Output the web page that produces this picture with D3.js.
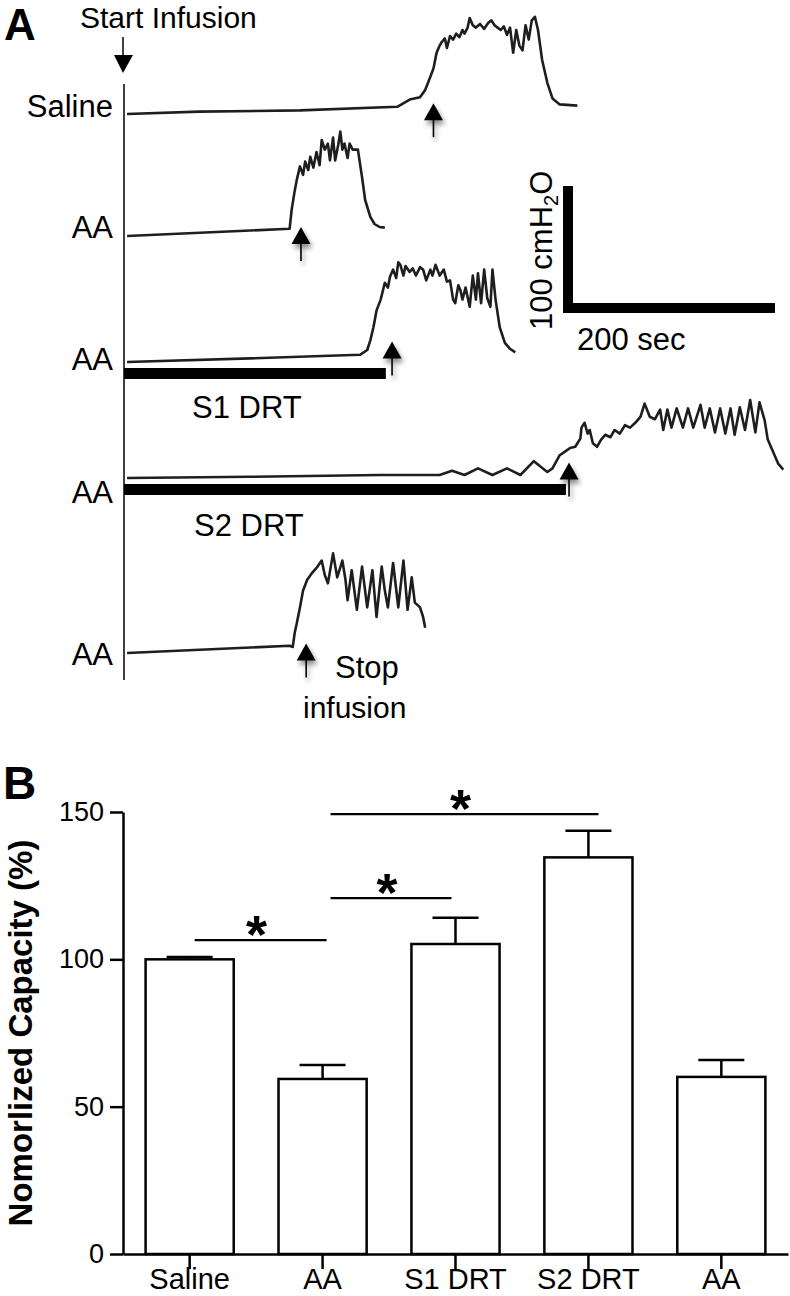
<!DOCTYPE html>
<html lang="en">
<head>
<meta charset="utf-8">
<title>Bladder capacity</title>
<script src="https://cdn.jsdelivr.net/npm/d3@7"></script>
<style>
  body { margin: 0; background: #fff; }
  text { font-family: "Liberation Sans", Arial, sans-serif; fill: #000; }
</style>
</head>
<body>
<script>

// ---- panel A: cystometry traces, [time (s), pressure (cmH2O) above row baseline]
var salineTrace = [[3,0],[73,2],[170,3],[264,6],[276,12],[286,14],[291,20],[296,31],[299,38],[302,51],[305,57],
  [307,60],[310,63],[312,55],[315,65],[318,62],[321,67],[324,64],[327,70],[329,67],[332,72],[334,80],[337,74],
  [340,72],[344,75],[348,71],[352,76],[355,78],[358,74],[361,72],[364,70],[367,73],[370,66],[373,72],[376,51],
  [379,70],[382,57],[385,53],[388,74],[391,62],[394,78],[397,81],[400,70],[404,45],[409,26],[414,13],[421,8],[438,7]];

var aa1Trace = [[3,0],[160,6],[162,22],[165,38],[167,47],[170,58],[173,51],[175,62],[178,55],[180,66],[183,57],
  [186,70],[189,59],[191,80],[194,72],[197,77],[199,63],[202,82],[204,63],[207,76],[209,87],[211,72],[213,77],
  [216,65],[218,77],[221,72],[223,72],[226,72],[230,49],[233,30],[238,16],[242,10],[247,7.5],[252,7]];

var aa2Trace = [[3,0],[122,3],[228,6],[235,10],[238,18],[241,29],[244,43],[248,52],[252,66],[255,62],[257,71],
  [260,77],[263,70],[265,83],[267,81],[270,72],[272,80],[276,75],[279,78],[282,72],[286,79],[289,77],[292,68],
  [296,77],[298,72],[301,81],[305,72],[309,77],[312,67],[315,68],[318,52],[320,49],[323,64],[325,60],[327,52],
  [330,62],[334,46],[337,72],[340,52],[342,74],[345,49],[348,77],[351,53],[354,46],[356,77],[359,52],[363,29],
  [368,16],[373,11],[378,8]];

var aa3Trace = [[3,0],[122,1],[247,2.5],[305,2.5],[317,6],[329,2.5],[342,8],[356,2.5],[370,8],[383,2.5],[396,14],
  [409,5],[414,8],[421,19],[426,22],[431,25],[436,26],[441,33],[442,42],[445,46],[448,37],[450,40],[453,29],
  [457,26],[461,32],[465,36],[470,34],[474,40],[479,37],[484,44],[489,42],[494,46],[499,51],[503,62],[508,51],
  [513,49],[518,57],[521,40],[525,57],[529,42],[534,58],[540,42],[545,58],[550,42],[557,61],[561,42],[566,58],
  [571,38],[576,58],[581,37],[586,58],[590,36],[595,59],[600,40],[605,65],[610,38],[614,63],[619,48],[622,32],
  [627,22],[632,12],[637,7]];

var aa4Trace = [[3,0],[160,6],[163,5],[165,17],[167,25],[170,38],[173,52],[177,61],[182,67],[187,72],[191,77],
  [194,65],[197,58],[202,83],[206,63],[211,77],[214,61],[216,44],[220,69],[225,36],[230,72],[235,38],[240,69],
  [244,30],[249,72],[252,52],[255,38],[260,75],[265,38],[270,77],[274,36],[278,63],[281,42],[286,38],[289,30],
  [291,21]];

var rowLabels = ["Saline", "AA", "AA", "AA", "AA"];
var arrowTimes = [299, 171, 259, 430, 176];      // stop infusion (s)
var arrowLevels = [9, 7.5, 17, 13, 8];           // arrow tip, cmH2O
var drtRows = [2, 3];
var drtEnds = [253, 427];                        // s
var drtLabels = ["S1 DRT", "S2 DRT"];

// ---- panel B: normalized capacity
var groups = ["Saline", "AA", "S1 DRT", "S2 DRT", "AA"];
var means = [100, 59.4, 105.2, 134.6, 60.1];
var sems = [0.8, 4.7, 8.9, 9.0, 5.7];
var yTicks = [0, 50, 100, 150];
var sigPairs = [[0, 1], [1, 2], [1, 3]];
var sigLevels = [106.5, 120.8, 149.3];

var traces = [salineTrace, aa1Trace, aa2Trace, aa3Trace, aa4Trace];

var svg = d3.select("body").append("svg")
  .attr("width", 790)
  .attr("height", 1296);

var defs = svg.append("defs");
var shadow = defs.append("filter").attr("id", "shadow")
  .attr("x", "-50%").attr("y", "-50%").attr("width", "200%").attr("height", "200%");
shadow.append("feDropShadow")
  .attr("dx", 2).attr("dy", 4).attr("stdDeviation", 2.5)
  .attr("flood-color", "#000").attr("flood-opacity", 0.45);

// ================= panel A =================
var rowBase = [114, 236, 362, 478, 653];
var labelY = [117, 238, 370, 503, 665];
var x0 = 124;

var tScale = d3.scaleLinear().domain([0, 200]).range([x0, x0 + 207]);
var pScales = rowBase.map(function(b) {
  return d3.scaleLinear().domain([0, 100]).range([b, b - 120]);
});

svg.append("text").attr("x", 4).attr("y", 40)
  .style("font-weight", "bold").style("font-size", "44px").text("A");

svg.append("text").attr("x", 80).attr("y", 27.5)
  .style("font-size", "30px").text("Start Infusion");

// start arrow
svg.append("line").attr("x1", x0 - 1).attr("x2", x0 - 1).attr("y1", 37).attr("y2", 60)
  .attr("stroke", "#000").attr("stroke-width", 1.5);
svg.append("path").attr("d", d3.line()([[x0 - 10, 55], [x0 + 9, 55], [x0 - 1, 73]]))
  .attr("fill", "#000");

// vertical start line
svg.append("line").attr("x1", x0).attr("x2", x0).attr("y1", 84).attr("y2", 680)
  .attr("stroke", "#000").attr("stroke-width", 1.5);

// DRT bars
drtRows.forEach(function(r, i) {
  var b = rowBase[r];
  svg.append("rect")
    .attr("x", tScale(0)).attr("width", tScale(drtEnds[i]) - tScale(0))
    .attr("y", b + 6).attr("height", 11)
    .attr("fill", "#000");
});
svg.append("text").attr("x", 192).attr("y", 418).style("font-size", "31px").text(drtLabels[0]);
svg.append("text").attr("x", 194).attr("y", 536).style("font-size", "31px").text(drtLabels[1]);

// traces
traces.forEach(function(tr, i) {
  var line = d3.line()
    .x(function(d) { return tScale(d[0]); })
    .y(function(d) { return pScales[i](d[1]); });
  svg.append("path")
    .attr("d", line(tr))
    .attr("fill", "none")
    .attr("stroke", "#1e1e1e")
    .attr("stroke-width", 2.6)
    .attr("stroke-linejoin", "round");
});

// row labels
svg.selectAll("text.row")
  .data(rowLabels)
  .enter()
  .append("text")
  .attr("class", "row")
  .attr("x", 113)
  .attr("y", function(d, i) { return labelY[i]; })
  .attr("text-anchor", "end")
  .style("font-size", "31px")
  .text(function(d) { return d; });

// stop infusion arrows
arrowTimes.forEach(function(t, i) {
  var ax = tScale(t);
  var ay = pScales[i](arrowLevels[i]);
  var g = svg.append("g").attr("filter", "url(#shadow)");
  g.append("line").attr("x1", ax).attr("x2", ax).attr("y1", ay + 12).attr("y2", ay + 34)
    .attr("stroke", "#000").attr("stroke-width", 1.6);
  g.append("path").attr("d", d3.line()([[ax, ay], [ax + 9.5, ay + 17], [ax - 9.5, ay + 17]]))
    .attr("fill", "#000");
});

svg.append("text").attr("x", 335).attr("y", 678).style("font-size", "31px").text("Stop");
svg.append("text").attr("x", 303).attr("y", 718).style("font-size", "30px").text("infusion");

// scale bars
var sbX = 568, sbY = 308;
var sbP = d3.scaleLinear().domain([0, 100]).range([sbY, sbY - 122]);
svg.append("rect").attr("x", sbX - 5).attr("width", 10)
  .attr("y", sbP(100)).attr("height", sbP(0) - sbP(100) + 5).attr("fill", "#000");
svg.append("rect").attr("x", sbX - 5).attr("width", tScale(200) - tScale(0) + 5)
  .attr("y", sbY - 5).attr("height", 10).attr("fill", "#000");

var vlab = svg.append("text")
  .attr("transform", "translate(552,330) rotate(-90)")
  .style("font-size", "31px");
vlab.append("tspan").text("100 cmH");
vlab.append("tspan").attr("dy", 6).style("font-size", "20px").text("2");
vlab.append("tspan").attr("dy", -6).text("O");

svg.append("text").attr("x", 577).attr("y", 350).style("font-size", "31px").text("200 sec");

// ================= panel B =================
svg.append("text").attr("x", 3).attr("y", 799)
  .style("font-weight", "bold").style("font-size", "46px").text("B");

var y = d3.scaleLinear().domain([0, 150]).range([1254, 812]);
var x = d3.scaleBand().domain(d3.range(groups.length))
  .range([123, 788]).paddingInner(0.337).paddingOuter(0.17);

var bars = svg.append("g");
bars.selectAll("rect")
  .data(means)
  .enter()
  .append("rect")
  .attr("x", function(d, i) { return x(i); })
  .attr("width", x.bandwidth())
  .attr("y", function(d) { return y(d); })
  .attr("height", function(d) { return y(0) - y(d); })
  .attr("fill", "#fff")
  .attr("stroke", "#000")
  .attr("stroke-width", 2.5);

var errG = svg.append("g").attr("stroke", "#000").attr("stroke-width", 2.5);
means.forEach(function(m, i) {
  var cx = x(i) + x.bandwidth() / 2;
  errG.append("line").attr("x1", cx).attr("x2", cx).attr("y1", y(m)).attr("y2", y(m + sems[i]));
  errG.append("line").attr("x1", cx - 23).attr("x2", cx + 23).attr("y1", y(m + sems[i])).attr("y2", y(m + sems[i]));
});

var yAxis = d3.axisLeft(y).tickValues(yTicks).tickSize(13).tickSizeOuter(0).tickPadding(6);
var gy = svg.append("g").attr("transform", "translate(123,0)").call(yAxis);
gy.selectAll("text").style("font-size", "27px");

var xAxis = d3.axisBottom(x).tickSize(15).tickSizeOuter(0)
  .tickFormat(function(i) { return groups[i]; });
var gx = svg.append("g").attr("transform", "translate(0,1254)").call(xAxis);
gx.selectAll("text").style("font-size", "29px").attr("y", 35).attr("dy", 0);

[gx, gy].forEach(function(g) {
  g.selectAll("path, line").attr("stroke", "#000").attr("stroke-width", 2.5);
  g.selectAll("text").attr("fill", "#000").style("font-family", "'Liberation Sans', Arial, sans-serif");
});

svg.append("text")
  .attr("transform", "translate(32,1033) rotate(-90)")
  .attr("text-anchor", "middle")
  .style("font-weight", "bold").style("font-size", "33px")
  .text("Nomorlized Capacity (%)");

// significance brackets
var sigStartShift = [5, 8, 8];
var sigEndShift = [4, -4, 10];
sigPairs.forEach(function(p, i) {
  var xa = x(p[0]) + x.bandwidth() / 2 + sigStartShift[i];
  var xb = x(p[1]) + x.bandwidth() / 2 + sigEndShift[i];
  var ly = y(sigLevels[i]);
  svg.append("line").attr("x1", xa).attr("x2", xb).attr("y1", ly).attr("y2", ly)
    .attr("stroke", "#000").attr("stroke-width", 2.2);
  svg.append("text")
    .attr("x", (xa + xb) / 2 - 4).attr("y", ly + 13)
    .attr("text-anchor", "middle")
    .style("font-weight", "bold").style("font-size", "54px")
    .text("*");
});

</script>
</body>
</html>
